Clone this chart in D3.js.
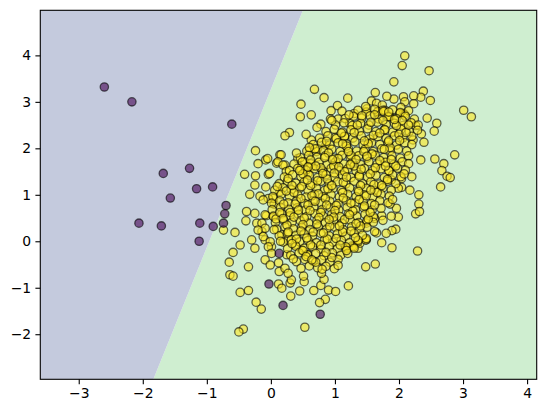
<!DOCTYPE html>
<html>
<head>
<meta charset="utf-8">
<script src="https://cdn.jsdelivr.net/npm/d3@7"></script>
<style>
html,body{margin:0;padding:0;background:#fff;}
svg{display:block;}
text{font-family:"DejaVu Sans",sans-serif;}
</style>
</head>
<body>
<div id="chart"></div>
<script>
// axis extents and ticks
const xDomain = [-3.6, 4.15];
const yDomain = [-2.97, 4.97];
const xTicks = [-3, -2, -1, 0, 1, 2, 3, 4];
const yTicks = [-2, -1, 0, 1, 2, 3, 4];

// decision boundary (two points on the line, bottom and top of plot)
const boundaryX = [-1.835, 0.50];
const boundaryY = [-2.97, 4.97];

// class 0 points (purple)
const class0 = [
  [-2.60,3.32],[-2.17,3.00],[-0.61,2.52],[-1.68,1.46],[-1.27,1.57],[-1.16,1.13],[-0.91,1.17],
  [-1.57,0.93],[-0.70,0.77],[-0.72,0.59],[-0.74,0.39],[-0.90,0.32],[-1.11,0.39],[-1.12,0.00],
  [-1.71,0.33],[-2.06,0.39],[-0.03,-0.92],[0.13,-0.26],[0.19,-1.38],[0.77,-1.57]
];

// class 1 points (yellow) - outer, sparse points
const class1Outer = [
  [0.68,3.27],[0.83,3.09],[0.47,2.95],[0.46,2.68],[0.63,2.72],[0.94,2.81],[1.04,2.92],[1.11,2.80],
  [1.20,3.08],[0.93,2.63],[1.05,2.63],[0.78,2.52],[0.29,2.34],[0.22,2.27],[-0.24,1.95],
  [2.09,3.99],[2.05,3.78],[2.47,3.67],[1.92,3.43],[1.63,3.20],[2.38,3.23],[2.34,3.10],[2.23,3.13],
  [2.49,3.03],[2.23,2.96],[2.07,3.11],[2.09,3.00],[1.92,3.06],[1.81,3.12],[1.57,3.02],[1.65,2.97],
  [1.74,2.93],[1.50,2.85],[1.30,2.75],[1.66,2.77],[1.78,2.82],[2.03,2.88],[2.07,2.75],[1.86,2.69],
  [2.44,2.65],[2.59,2.54],[3.01,2.82],[3.13,2.68],[2.26,2.49],[2.55,2.37],[2.35,2.31],[2.39,2.13],[2.22,2.18],
  [-0.08,1.75],[-0.20,1.67],[-0.41,1.44],[-0.24,1.41],[-0.04,1.44],[-0.25,1.21],[-0.08,1.17],[-0.33,1.01],
  [-0.17,0.97],[0.05,0.80],[-0.38,0.64],[-0.25,0.60],[-0.07,0.55],[-0.39,0.44],[-0.22,0.39],[-0.56,0.19],
  [-0.74,0.24],[-0.14,0.21],[-0.09,0.03],[-0.30,0.03],[0.14,1.86],[0.09,1.68],[0.22,1.64],
  [2.87,1.86],[2.56,1.77],[2.70,1.67],[2.67,1.52],[2.75,1.40],[2.80,1.37],[2.65,1.17],[2.34,1.75],
  [2.20,1.39],[2.04,1.16],[2.17,1.10],[2.31,1.00],[2.31,0.80],[2.26,0.59],[2.32,0.64],[1.96,0.71],
  [1.86,0.80],[1.99,0.52],[1.88,0.54],[1.73,0.55],[1.95,0.26],[1.89,0.23],[1.80,0.17],[1.65,0.18],
  [1.49,0.03],[1.73,-0.03],
  [-0.59,-0.24],[-0.65,-0.45],[-0.35,-0.55],[-0.64,-0.72],[-0.59,-0.75],[-0.48,-1.10],[-0.35,-1.06],
  [-0.23,-1.31],[-0.15,-1.46],[0.53,-1.85],[-0.43,-1.89],[-0.50,-1.95],[0.12,-0.92],[0.17,-1.01],
  [0.31,-1.18],[0.45,-1.07],[0.30,-0.90],[0.32,-0.83],[0.52,-0.87],[0.51,-0.75],[0.67,-1.06],[0.78,-0.95],
  [0.90,-1.05],[1.01,-1.08],[0.85,-1.25],[0.76,-1.32],[1.21,-0.96],[0.83,-0.82],[0.79,-0.69],[0.13,-0.65],
  [0.12,-0.46],[-0.09,-0.40],[-0.01,-0.51],[0.22,-0.58],[0.27,-0.69],[-0.48,-0.08],[-0.25,-0.15],[0.01,-0.12],
  [1.89,-0.14],[2.29,-0.21],[1.48,-0.55],[1.63,-0.49],[1.21,-0.15],[1.36,-0.15],[1.27,-0.10],[1.39,-0.04],[1.48,0.03],
  [0.63,2.18],[0.73,2.00],[0.86,2.07],[1.00,2.23],[1.15,2.25],[1.23,2.54],[0.16,1.86],[0.11,1.71],[0.19,1.64],
  [0.24,1.50],[-0.02,1.46],[-0.05,1.78],[0.42,1.78],[0.53,1.71],[0.47,1.57],[0.63,1.60],[0.58,1.46],[0.61,1.96],[0.71,1.93],
  [0.14,1.07],[0.04,0.92],[-0.04,0.92],[-0.12,0.89],[-0.09,0.57],[0.04,0.53],[-0.14,0.39],[-0.09,0.28],[-0.20,0.24],
  [-0.12,0.10],[-0.01,-0.01],[-0.04,-0.12],[0.01,-0.26],[0.25,-0.29],[0.17,0.14],[0.27,0.03],[0.38,-0.08],[0.48,-0.19],[0.58,-0.29],
  [1.99,1.14],[2.04,1.35],[1.88,1.32],[1.62,0.49],[1.49,0.39],[1.62,0.21],[1.49,0.06],[1.36,-0.01],[1.29,-0.12],[1.18,-0.15],
  [1.67,2.79],[1.75,2.82],[1.85,2.68],[2.01,2.75],[2.09,2.72]
];

// class 1 points (yellow) - dense core
const class1Core = [
  [1.36,2.82],[1.49,2.78],[1.62,2.84],[1.76,2.79],[1.90,2.83],[2.02,2.77],[2.15,2.81],
  [1.16,2.64],[1.29,2.69],[1.42,2.65],[1.55,2.70],[1.69,2.63],[1.83,2.68],[1.96,2.64],[2.10,2.69],[2.24,2.63],
  [1.01,2.50],[1.14,2.55],[1.27,2.49],[1.40,2.54],[1.53,2.50],[1.66,2.56],[1.80,2.51],[1.93,2.54],[2.06,2.49],[2.19,2.55],[2.30,2.50],
  [0.86,2.36],[0.99,2.41],[1.12,2.35],[1.25,2.40],[1.38,2.37],[1.51,2.42],[1.64,2.36],[1.77,2.40],[1.90,2.35],[2.03,2.41],[2.16,2.36],[2.29,2.39],
  [0.76,2.22],[0.89,2.27],[1.02,2.21],[1.15,2.26],[1.28,2.22],[1.41,2.27],[1.54,2.20],[1.67,2.25],[1.80,2.21],[1.93,2.27],[2.06,2.22],[2.20,2.26],
  [0.66,2.08],[0.79,2.13],[0.92,2.07],[1.05,2.12],[1.18,2.09],[1.31,2.14],[1.44,2.07],[1.57,2.12],[1.70,2.08],[1.83,2.13],[1.96,2.07],[2.09,2.12],[2.20,2.08],
  [0.56,1.94],[0.69,1.99],[0.82,1.95],[0.95,1.98],[1.08,1.93],[1.21,1.99],[1.34,1.94],[1.47,1.98],[1.60,1.93],[1.73,1.99],[1.86,1.95],[1.99,1.98],[2.12,1.94],
  [0.46,1.80],[0.59,1.85],[0.72,1.81],[0.85,1.84],[0.98,1.79],[1.11,1.85],[1.24,1.80],[1.37,1.84],[1.50,1.79],[1.63,1.85],[1.76,1.80],[1.89,1.84],[2.02,1.79],[2.15,1.84],
  [0.36,1.66],[0.49,1.71],[0.62,1.67],[0.75,1.70],[0.88,1.65],[1.01,1.71],[1.14,1.66],[1.27,1.70],[1.40,1.65],[1.53,1.71],[1.66,1.66],[1.79,1.70],[1.92,1.65],[2.05,1.71],[2.15,1.67],
  [0.29,1.52],[0.42,1.57],[0.55,1.53],[0.68,1.56],[0.81,1.51],[0.94,1.57],[1.07,1.52],[1.20,1.56],[1.33,1.51],[1.46,1.57],[1.59,1.52],[1.72,1.56],[1.85,1.51],[1.98,1.57],[2.10,1.53],
  [0.21,1.38],[0.34,1.43],[0.47,1.39],[0.60,1.42],[0.73,1.37],[0.86,1.43],[0.99,1.38],[1.12,1.42],[1.25,1.37],[1.38,1.43],[1.51,1.38],[1.64,1.42],[1.77,1.37],[1.90,1.43],[2.03,1.39],
  [0.13,1.24],[0.26,1.29],[0.39,1.25],[0.52,1.28],[0.65,1.23],[0.78,1.29],[0.91,1.24],[1.04,1.28],[1.17,1.23],[1.30,1.29],[1.43,1.24],[1.56,1.28],[1.69,1.23],[1.82,1.29],[1.95,1.24],
  [0.06,1.10],[0.19,1.15],[0.32,1.11],[0.45,1.14],[0.58,1.09],[0.71,1.15],[0.84,1.10],[0.97,1.14],[1.10,1.09],[1.23,1.15],[1.36,1.10],[1.49,1.14],[1.62,1.09],[1.75,1.15],[1.88,1.10],
  [0.03,0.96],[0.16,1.01],[0.29,0.97],[0.42,1.00],[0.55,0.95],[0.68,1.01],[0.81,0.96],[0.94,1.00],[1.07,0.95],[1.20,1.01],[1.33,0.96],[1.46,1.00],[1.59,0.95],[1.72,1.01],[1.85,0.97],
  [0.01,0.82],[0.14,0.87],[0.27,0.83],[0.40,0.86],[0.53,0.81],[0.66,0.87],[0.79,0.82],[0.92,0.86],[1.05,0.81],[1.18,0.87],[1.31,0.82],[1.44,0.86],[1.57,0.81],[1.70,0.87],[1.83,0.83],
  [0.02,0.68],[0.15,0.73],[0.28,0.69],[0.41,0.72],[0.54,0.67],[0.67,0.73],[0.80,0.68],[0.93,0.72],[1.06,0.67],[1.19,0.73],[1.32,0.68],[1.45,0.72],[1.58,0.67],[1.72,0.71],
  [0.04,0.54],[0.17,0.59],[0.30,0.55],[0.43,0.58],[0.56,0.53],[0.69,0.59],[0.82,0.54],[0.95,0.58],[1.08,0.53],[1.21,0.59],[1.34,0.54],[1.47,0.58],[1.60,0.53],
  [0.07,0.40],[0.20,0.45],[0.33,0.41],[0.46,0.44],[0.59,0.39],[0.72,0.45],[0.85,0.40],[0.98,0.44],[1.11,0.39],[1.24,0.45],[1.37,0.40],[1.50,0.44],[1.60,0.41],
  [0.09,0.26],[0.22,0.31],[0.35,0.27],[0.48,0.30],[0.61,0.25],[0.74,0.31],[0.87,0.26],[1.00,0.30],[1.13,0.25],[1.26,0.31],[1.39,0.26],[1.50,0.30],
  [0.13,0.12],[0.26,0.17],[0.39,0.13],[0.52,0.16],[0.65,0.11],[0.78,0.17],[0.91,0.12],[1.04,0.16],[1.17,0.11],[1.30,0.17],[1.43,0.13],
  [0.19,-0.02],[0.32,0.03],[0.45,-0.01],[0.58,0.02],[0.71,-0.03],[0.84,0.03],[0.97,-0.02],[1.10,0.02],[1.23,-0.03],[1.36,0.02],
  [0.26,-0.16],[0.39,-0.11],[0.52,-0.15],[0.65,-0.12],[0.78,-0.17],[0.91,-0.11],[1.04,-0.16],[1.17,-0.12],[1.30,-0.15],
  [0.31,-0.30],[0.44,-0.25],[0.57,-0.29],[0.70,-0.26],[0.83,-0.31],[0.96,-0.25],[1.09,-0.30],[1.20,-0.26],
  [0.40,-0.44],[0.53,-0.39],[0.66,-0.43],[0.79,-0.40],[0.92,-0.45],[1.05,-0.39],
  [0.47,-0.58],[0.60,-0.53],[0.73,-0.57],[0.86,-0.54],[0.99,-0.59]
];

// class 1 points (yellow) - overlapping points in the centre
const class1Centre = [
  [0.55,2.30],[0.72,2.45],[0.95,2.60],[1.22,2.72],[1.48,2.90],[1.75,2.60],[2.00,2.30],[1.86,2.02],[1.60,2.28],
  [1.35,2.50],[1.10,2.33],[0.87,2.15],[0.60,2.02],[0.40,1.90],[0.62,1.75],[0.90,1.90],[1.18,2.05],[1.45,1.93],
  [1.70,1.74],[1.95,1.62],[2.08,1.45],[1.82,1.33],[1.55,1.45],[1.30,1.62],[1.05,1.78],[0.78,1.58],[0.50,1.45],
  [0.27,1.35],[0.10,1.18],[0.36,1.05],[0.62,1.20],[0.88,1.34],[1.15,1.50],[1.40,1.20],[1.66,1.05],[1.90,0.90],
  [1.62,0.78],[1.38,0.90],[1.12,1.05],[0.85,0.92],[0.58,0.78],[0.30,0.62],[0.08,0.48],[0.25,0.35],[0.52,0.50],
  [0.78,0.62],[1.02,0.77],[1.28,0.65],[1.52,0.48],[1.40,0.33],[1.15,0.47],[0.92,0.33],[0.66,0.20],[0.40,0.05],
  [0.62,-0.08],[0.88,0.05],[1.12,0.20],[1.32,0.08],[1.18,-0.20],[0.95,-0.35],[0.70,-0.45],[0.50,-0.20],[0.80,-0.60],
  [1.05,-0.52],[0.35,-0.38],[0.98,1.62],[1.25,1.85],[1.52,2.10],[1.78,2.40],[2.05,2.60],[1.42,2.70],[0.74,1.02],
  [0.47,0.92],[0.20,0.80],[1.55,0.62],[1.75,0.45],[0.15,0.00],[0.05,0.25]
];

// class 1 points (yellow) - further overlapping points in the densest part
const class1Inner = [
  [0.33,1.20],[0.57,1.32],[0.81,1.46],[1.06,1.60],[1.33,1.76],[1.58,1.88],[1.84,2.16],[2.11,2.34],[1.96,2.49],
  [1.70,2.33],[1.46,2.16],[1.21,1.93],[0.96,1.76],[0.70,1.62],[0.45,1.52],[0.24,1.08],[0.48,1.18],[0.73,1.30],
  [0.99,1.47],[1.24,1.65],[1.50,1.83],[1.77,1.98],[2.01,2.17],[1.88,1.76],[1.63,1.58],[1.38,1.40],[1.13,1.27],
  [0.89,1.13],[0.64,0.98],[0.38,0.80],[0.14,0.62],[0.36,0.52],[0.61,0.66],[0.87,0.78],[1.13,0.93],[1.37,1.07],
  [1.61,1.22],[1.84,1.52],[1.73,1.20],[1.49,0.98],[1.25,0.82],[1.00,0.66],[0.75,0.51],[0.50,0.36],[0.27,0.20],
  [0.47,0.22],[0.72,0.37],[0.98,0.52],[1.23,0.57],[1.46,0.76],[1.33,0.38],[1.07,0.33],[0.82,0.18],[0.56,0.07],
  [0.33,-0.05],[0.55,-0.33],[0.78,-0.08],[1.02,0.06],[1.25,0.22],[1.08,-0.08],[0.86,-0.24],[0.64,-0.40],
  [1.30,2.34],[1.56,2.56],[1.84,2.78],[1.12,2.10],[0.84,1.80],[0.58,1.60],[1.93,2.62],[2.15,2.50],[1.62,2.72],
  [0.91,0.47],[0.69,0.86],[1.41,1.55],[1.18,1.38],[0.95,1.20],[0.43,0.67],[0.19,0.49],[1.56,1.10],[1.79,1.62]
];

const W = 546, H = 413;
const plot = {left: 40.3, right: 536.7, top: 10.3, bottom: 379.3};

const x = d3.scaleLinear().domain(xDomain).range([plot.left, plot.right]);
const y = d3.scaleLinear().domain(yDomain).range([plot.bottom, plot.top]);

const svg = d3.select("#chart").append("svg").attr("width", W).attr("height", H);

svg.append("clipPath").attr("id", "clip")
  .append("rect").attr("x", plot.left).attr("y", plot.top)
  .attr("width", plot.right - plot.left).attr("height", plot.bottom - plot.top);

const g = svg.append("g").attr("clip-path", "url(#clip)");

// decision regions
const leftPoly = [
  [xDomain[0], yDomain[0]], [boundaryX[0], boundaryY[0]], [boundaryX[1], boundaryY[1]], [xDomain[0], yDomain[1]]
];
const rightPoly = [
  [boundaryX[0], boundaryY[0]], [xDomain[1], yDomain[0]], [xDomain[1], yDomain[1]], [boundaryX[1], boundaryY[1]]
];
const line = d3.line().x(d => x(d[0])).y(d => y(d[1]));
g.append("path").attr("d", line(rightPoly) + "Z").attr("fill", "#cfeed0");
g.append("path").attr("d", line(leftPoly) + "Z").attr("fill", "#c4cadd");

// points
const yellow = class1Outer.concat(class1Core, class1Centre, class1Inner);
function drawPoints(data, color) {
  g.append("g").selectAll("circle").data(data).join("circle")
    .attr("cx", d => x(d[0])).attr("cy", d => y(d[1])).attr("r", 4.17)
    .attr("fill", color).attr("fill-opacity", 0.6)
    .attr("stroke", "#000").attr("stroke-opacity", 0.6).attr("stroke-width", 1.3);
}
drawPoints(yellow, "#fde725");
drawPoints(class0, "#440154");

// axes
const xAxis = d3.axisBottom(x).tickValues(xTicks).tickSize(4.9).tickPadding(4.2).tickSizeOuter(0);
const yAxis = d3.axisLeft(y).tickValues(yTicks).tickSize(4.9).tickPadding(4.2).tickSizeOuter(0);

const gx = svg.append("g").attr("transform", `translate(0,${plot.bottom})`).call(xAxis);
const gy = svg.append("g").attr("transform", `translate(${plot.left},0)`).call(yAxis);
[gx, gy].forEach(a => {
  a.select(".domain").remove();
  a.selectAll("line").attr("stroke", "#000").attr("stroke-width", 1.1);
  a.selectAll("text").attr("font-family", "DejaVu Sans, sans-serif").attr("font-size", "13.9px").attr("fill", "#000");
});

// frame
svg.append("rect").attr("x", plot.left).attr("y", plot.top)
  .attr("width", plot.right - plot.left).attr("height", plot.bottom - plot.top)
  .attr("fill", "none").attr("stroke", "#000").attr("stroke-width", 1.1);
</script>
</body>
</html>
